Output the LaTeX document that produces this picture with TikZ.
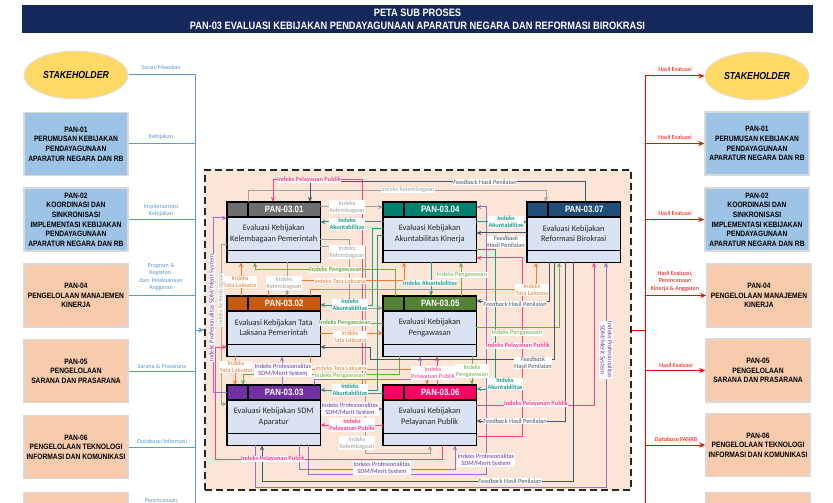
\documentclass[tikz,border=0pt]{standalone}
\usepackage{fontspec}
\setmainfont{Carlito}
\newfontfamily\narrowfont{Liberation Sans}[FakeStretch=0.86]
\usetikzlibrary{arrows.meta,calc,shapes.geometric}

% palette
\definecolor{hdrnavy}{HTML}{14285C}
\definecolor{pblue}{HTML}{9DC3E6}
\definecolor{ppeach}{HTML}{F8CBAD}
\definecolor{sgold}{HTML}{FFD966}
\definecolor{zonefill}{HTML}{FBE5D6}
\definecolor{bodyfill}{HTML}{DAE3F3}
\definecolor{linkblue}{HTML}{5B9BD5}
\definecolor{hgray}{HTML}{6E6E6E}
\definecolor{hteal}{HTML}{00806E}
\definecolor{hnavy}{HTML}{1F4E79}
\definecolor{horange}{HTML}{C55A11}
\definecolor{hgreen}{HTML}{548235}
\definecolor{hpurple}{HTML}{7030A0}
\definecolor{hpink}{HTML}{FF0066}
\definecolor{cgray}{HTML}{A0A0A0}
\definecolor{cteal}{HTML}{1E9C8C}
\definecolor{cnavy}{HTML}{44546A}
\definecolor{cgreen}{HTML}{70AD47}
\definecolor{corange}{HTML}{ED7D31}
\definecolor{cpink}{HTML}{FF3D8B}
\definecolor{cpurple}{HTML}{9A6FC8}

\tikzset{
  hdr/.style={fill=hdrnavy,text=white,align=center,minimum width=791bp,minimum height=28bp,
    font=\narrowfont\bfseries\fontsize{10.8}{13}\selectfont},
  shape-oval/.style={ellipse,fill=sgold,draw=black!12,line width=1bp,minimum width=104bp,
    minimum height=48bp,inner sep=0pt,font=\narrowfont\bfseries\itshape\fontsize{10.2}{12}\selectfont},
  lbox/.style={rectangle,draw=black!15,line width=1.5bp,minimum width=104bp,minimum height=63bp,
    align=center,inner sep=1bp,font=\narrowfont\bfseries\fontsize{7.8}{9.7}\selectfont},
  zone/.style={rectangle,fill=zonefill,draw=black!85,line width=1.5bp,dash pattern=on 7bp off 4bp,
    minimum width=426bp,minimum height=320bp},
  pframe/.style={rectangle,minimum width=93bp,minimum height=60bp,inner sep=0pt},
  ptitle/.style={text=white,font=\narrowfont\bfseries\fontsize{9.2}{10}\selectfont,inner sep=0pt},
  pbody/.style={align=center,text=black!85,font=\fontsize{8.4}{10.4}\selectfont,inner sep=0pt},
  lk/.style={linkblue,line width=1bp},
  rk/.style={red,line width=1bp},
  link/.style={line width=1bp,-{Stealth[length=5bp,width=4.2bp]}},
  tag/.style={fill=white,inner sep=0.5bp,align=center,font=\fontsize{6.4}{7.2}\selectfont},
  btag/.style={tag,font=\bfseries\fontsize{6.4}{7.2}\selectfont},
  side/.style={align=center,font=\fontsize{6.2}{7.6}\selectfont,inner sep=0.5bp},
}

% a sub-process box: name, left x, top y, header colour, code, title
\newcommand\pansub[6]{%
  \node[pframe,anchor=north west] (#1) at (#2,#3) {};
  \fill[bodyfill] (#1.north west) rectangle (#1.south east);
  \fill[#4] (#1.north west) rectangle ($(#1.north east)+(0,15)$);
  \draw[line width=1.1bp] ($(#1.north west)+(0,15)$) -- ($(#1.north east)+(0,15)$);
  \draw[line width=1.1bp] ($(#1.south west)+(0,-12)$) -- ($(#1.south east)+(0,-12)$);
  \draw[line width=1.1bp] ($(#1.north west)+(21,0)$) -- ($(#1.north west)+(21,15)$);
  \draw[line width=1.3bp] (#1.north west) rectangle (#1.south east);
  \node[ptitle] (#1-t) at ($(#1.north)+(10.5,7.5)$) {#5};
  \node[pbody] (#1-b) at ($(#1.center)+(0,1.5)$) {#6};
}

\begin{document}
\begin{tikzpicture}[x=1bp,y=-1bp]
\useasboundingbox (0,0) rectangle (833,503);
\clip (0,0) rectangle (833,503);
\fill[white] (0,0) rectangle (833,503);

% title bar
\node[hdr] (title) at (417.5,19) {PETA SUB PROSES\\PAN-03 EVALUASI KEBIJAKAN PENDAYAGUNAAN APARATUR NEGARA DAN REFORMASI BIROKRASI};

% ---------- inputs (left) ----------
\node[shape-oval] (shL) at (76,75) {STAKEHOLDER};
\node[lbox,fill=pblue] (l01) at (76,144) {PAN-01\\PERUMUSAN KEBIJAKAN\\PENDAYAGUNAAN\\APARATUR NEGARA DAN RB};
\node[lbox,fill=pblue] (l02) at (76,219.5) {PAN-02\\KOORDINASI DAN\\SINKRONISASI\\IMPLEMENTASI KEBIJAKAN\\PENDAYAGUNAAN\\APARATUR NEGARA DAN RB};
\node[lbox,fill=ppeach] (l04) at (76,295.5) {PAN-04\\PENGELOLAAN MANAJEMEN\\KINERJA};
\node[lbox,fill=ppeach] (l05) at (76,371) {PAN-05\\PENGELOLAAN\\SARANA DAN PRASARANA};
\node[lbox,fill=ppeach] (l06) at (76,447) {PAN-06\\PENGELOLAAN TEKNOLOGI\\INFORMASI DAN KOMUNIKASI};
\node[lbox,fill=ppeach] (l07) at (76,524) {};

\coordinate (lbusT) at (195,75);
\coordinate (lbusB) at (195,520);
\draw[lk] (shL.east) -- (lbusT) -- (lbusB);
\draw[lk] (l01.east) -- (l01.east -| lbusT);
\draw[lk] (l02.east) -- (l02.east -| lbusT);
\draw[lk] (l04.east) -- (l04.east -| lbusT);
\draw[lk] (l05.east) -- (l05.east -| lbusT);
\draw[lk] (l06.east) -- (l06.east -| lbusT);
\draw[lk] (l07.east) -- (l07.east -| lbusT);

\node[side,text=linkblue] (ti1) at (161,67) {Saran/Masukan};
\node[side,text=linkblue] (ti2) at (161,137) {Kebijakan};
\node[side,text=linkblue] (ti3) at (161,210.5) {Implementasi\\Kebijakan};
\node[side,text=linkblue] (ti4) at (161,277) {Program \&\\Kegiatan,\\dan~~Pelaksanaan\\Anggaran};
\node[side,text=linkblue] (ti5) at (162,366) {Sarana \& Prasarana};
\node[side,text=linkblue] (ti6) at (162,441) {\textit{Database}/Informasi};
\node[side,text=linkblue] (ti7) at (162,501) {Perencanaan,};

% ---------- outputs (right) ----------
\node[shape-oval] (shR) at (757,76) {STAKEHOLDER};
\node[lbox,fill=pblue] (r01) at (757,143.5) {PAN-01\\PERUMUSAN KEBIJAKAN\\PENDAYAGUNAAN\\APARATUR NEGARA DAN RB};
\node[lbox,fill=pblue] (r02) at (757,219.5) {PAN-02\\KOORDINASI DAN\\SINKRONISASI\\IMPLEMENTASI KEBIJAKAN\\PENDAYAGUNAAN\\APARATUR NEGARA DAN RB};
\node[lbox,fill=ppeach] (r04) at (759,295.5) {PAN-04\\PENGELOLAAN MANAJEMEN\\KINERJA};
\node[lbox,fill=ppeach] (r05) at (758,370.5) {PAN-05\\PENGELOLAAN\\SARANA DAN PRASARANA};
\node[lbox,fill=ppeach] (r06) at (758,445) {PAN-06\\PENGELOLAAN TEKNOLOGI\\INFORMASI DAN KOMUNIKASI};
\node[lbox,fill=ppeach] (r07) at (758,524) {};

\coordinate (rbusT) at (645,76);
\coordinate (rbusB) at (645,520);
\draw[rk] (rbusT) -- (rbusB);
\draw[rk,-{Stealth[length=6bp,width=5bp]}] (rbusT) -- (shR.west);
\draw[rk,-{Stealth[length=6bp,width=5bp]}] (r01.west -| rbusT) -- (r01.west);
\draw[rk,-{Stealth[length=6bp,width=5bp]}] (r02.west -| rbusT) -- (r02.west);
\draw[rk,-{Stealth[length=6bp,width=5bp]}] (r04.west -| rbusT) -- (r04.west);
\draw[rk,-{Stealth[length=6bp,width=5bp]}] (r05.west -| rbusT) -- (r05.west);
\draw[rk,-{Stealth[length=6bp,width=5bp]}] (r06.west -| rbusT) -- (r06.west);

\node[side,text=red] (to1) at (675,69) {Hasil Evaluasi};
\node[side,text=red] (to2) at (675,137) {Hasil Evaluasi};
\node[side,text=red] (to3) at (675,213) {Hasil Evaluasi};
\node[side,text=red] (to4) at (675,281) {Hasil Evaluasi,\\Perencanaan\\Kinerja \& Anggaran};
\node[side,text=red] (to5) at (676,365) {Hasil Evaluasi};
\node[side,text=red] (to6) at (676,439) {\textit{Database} PANRB};

% ---------- sub-process zone ----------
\node[zone] (zone) at (418,330) {};
\draw[lk,-{Stealth[length=6bp,width=5bp]}] (zone.west -| lbusT) -- (zone.west);
\draw[rk] (zone.east) -- (zone.east -| rbusT);

\pansub{b01}{227}{202}{hgray}{PAN-03.01}{Evaluasi Kebijakan\\Kelembagaan Pemerintah}
\pansub{b04}{383}{202}{hteal}{PAN-03.04}{Evaluasi Kebijakan\\Akuntabilitas Kinerja}
\pansub{b07}{527}{202}{hnavy}{PAN-03.07}{Evaluasi Kebijakan\\Reformasi Birokrasi}
\pansub{b02}{227}{296}{horange}{PAN-03.02}{Evaluasi Kebijakan Tata\\Laksana Pemerintah}
\pansub{b05}{383}{296}{hgreen}{PAN-03.05}{Evaluasi Kebijakan\\Pengawasan}
\pansub{b03}{227}{385}{hpurple}{PAN-03.03}{Evaluasi Kebijakan SDM\\Aparatur}
\pansub{b06}{383}{385}{hpink}{PAN-03.06}{Evaluasi Kebijakan\\Pelayanan Publik}

% ---------- flows between sub-processes ----------
% kelembagaan (gray)
\draw[link,cgray] (b01.north -| 248,0) |- (546,191) -- (b07.north -| 546,0);
\draw[link,cgray] (b01.east |- 0,207) -- (b04.west |- 0,207);
\draw[link,cgray] (b01.east |- 0,240) -| (349,308) -- (b05.west |- 0,308);
\draw[link,cgray] (b01.south -| 287,0) -- (b02.north -| 287,0);
\draw[link,cgray] (b01.east |- 0,247) -| (365,453) -| (b06.south -| 430,0);
\draw[link,cgray] (b01.west |- 0,245) -| (221,404) -- (b03.west |- 0,404);
% akuntabilitas (teal)
\draw[link,cteal] (b04.west |- 0,222) -- (b01.east |- 0,222);
\draw[link,cteal] (b04.west |- 0,229) -| (372,305) -- (b02.east |- 0,305);
\draw[link,cteal] (b04.west |- 0,236) -| (377,390) -- (b03.east |- 0,390);
\draw[link,cteal] (b04.south -| 431,0) -- (b05.north -| 431,0);
\draw[link,cteal] (b04.east |- 0,222) -- (b07.west |- 0,222);
\draw[link,cteal] (b04.east |- 0,250) -| (495,389) -- (b06.east |- 0,389);
% pengawasan (green)
\draw[link,cgreen] (b05.north -| 395,0) |- (255,270) -- (b01.south -| 255,0);
\draw[link,cgreen] (b05.west |- 0,323) -- (b02.east |- 0,323);
\draw[link,cgreen] (b05.east |- 0,327) -| (b07.south -| 559,0);
\draw[link,cgreen] (b05.north -| 461,0) -- (b04.south -| 461,0);
\draw[link,cgreen] (b05.south -| 399,0) |- (243,374) -- (b03.north -| 243,0);
\draw[link,cgreen] (b05.south -| 472,0) -- (b06.north -| 472,0);
% tata laksana (orange)
\draw[link,corange] (b02.north -| 241,0) -- (b01.south -| 241,0);
\draw[link,corange] (b02.north -| 268,0) |- (404,281) -- (b04.south -| 404,0);
\draw[link,corange] (b02.north -| 310,0) |- (536,290) -- (b07.south -| 536,0);
\draw[link,corange] (b02.east |- 0,333) -- (b05.west |- 0,333);
\draw[link,corange] (b02.south -| 235,0) -- (b03.north -| 235,0);
\draw[link,corange] (b02.south -| 310,0) |- (427,369) -- (b06.north -| 427,0);
% profesionalitas SDM (purple)
\draw[link,cpurple] (b03.west |- 0,392) -| (213,218) -- (b01.west |- 0,218);
\draw[link,cpurple] (b03.north -| 282,0) -- (b02.south -| 282,0);
\draw[link,cpurple] (b03.north -| 314,0) |- (420,379) -- (b05.south -| 420,0);
\draw[link,cpurple] (b03.south -| 308,0) |- (486,474) |- (b04.east |- 0,207);
\draw[link,cpurple] (b03.south -| 299,0) |- (455,469) -- (b06.south -| 455,0);
\draw[link,cpurple] (b03.south -| 255,0) |- (606,487) -- (b07.south -| 606,0);
\draw[link,cpurple] (b03.east |- 0,409) -- (b06.west |- 0,409);
% pelayanan publik (pink)
\draw[link,cpink] (b06.west |- 0,393) -| (362,180) -| (b01.north -| 273,0);
\draw[link,cpink] (b06.west |- 0,425) -- (b03.east |- 0,425);
\draw[link,cpink] (b06.south -| 442,0) |- (215,459) |- (b02.west |- 0,347);
\draw[link,cpink] (b06.north -| 437,0) -- (b05.south -| 437,0);
\draw[link,cpink] (b06.east |- 0,405) -| (b07.south -| 594,0);
\draw[link,cpink] (b06.east |- 0,436) -| (522,258) -- (b04.east |- 0,258);
% feedback (navy)
\draw[link,cnavy] (b07.north -| 585,0) |- (310,182) -- (b01.north -| 310,0);
\draw[link,cnavy] (b07.west |- 0,233) -- (b04.east |- 0,233);
\draw[link,cnavy] (b07.south -| 549,0) |- (b05.east |- 0,301);
\draw[link,cnavy] (b07.south -| 554,0) |- (370,359) |- (b02.east |- 0,347);
\draw[link,cnavy] (b07.south -| 565,0) |- (b06.east |- 0,421);
\draw[link,cnavy] (b07.south -| 573,0) |- (262,481) -- (b03.south -| 262,0);

% ---------- flow labels ----------
\node[btag,text=cpink] (t01) at (309,180) {Indeks Pelayanan Publik};
\node[tag,text=cnavy] (t02) at (485,182) {\textit{Feedback} Hasil Penilaian};
\node[tag,text=cgray] (t03) at (408,190) {Indeks Kelembagaan};
\node[tag,text=cgray] (t04) at (347,207) {Indeks\\Kelembagaan};
\node[btag,text=cteal] (t05) at (347,224) {Indeks\\Akuntabilitas};
\node[tag,text=cgray] (t06) at (347,252) {Indeks\\Kelembagaan};
\node[btag,text=cgreen] (t07) at (336,270) {Indeks Pengawasan};
\node[tag,text=corange] (t08) at (240,282) {Indeks\\Tata Laksana};
\node[tag,text=cgray] (t09) at (284,283) {Indeks\\Kelembagaan};
\node[tag,text=corange] (t10) at (340,281) {Indeks Tata Laksana};
\node[btag,text=cteal] (t11) at (430,283) {Indeks Akuntabilitas};
\node[tag,text=cgreen] (t12) at (462,275) {Indeks Pengawasan};
\node[tag,text=corange] (t13) at (532,290) {Indeks\\Tata Laksana};
\node[btag,text=cteal] (t14) at (506,222) {Indeks\\Akuntabilitas};
\node[tag,text=cnavy] (t15) at (506,242) {\textit{Feedback}\\Hasil Penilaian};
\node[btag,text=cteal] (t16) at (350,305) {Indeks\\Akuntabilitas};
\node[btag,text=cgreen] (t17) at (345,323) {Indeks Pengawasan};
\node[tag,text=corange] (t18) at (350,337) {Indeks\\Tata Laksana};
\node[tag,text=cnavy] (t19) at (515,304) {\textit{Feedback} Hasil Penilaian};
\node[tag,text=cgreen] (t20) at (517,333) {Indeks Pengawasan};
\node[btag,text=cpink] (t21) at (518,346) {Indeks Pelayanan Publik};
\node[tag,text=cnavy] (t22) at (533,363) {\textit{Feedback}\\Hasil Penilaian};
\node[tag,text=corange] (t23) at (236,367) {Indeks\\Tata Laksana};
\node[tag,text=hpurple] (t24) at (283,370) {Indeks Profesionalitas\\SDM/Merit System};
\node[tag,text=corange] (t25) at (341,368) {Indeks Tata Laksana};
\node[tag,text=cgreen] (t26) at (340,376) {Indeks Pengawasan};
\node[tag,text=cpink] (t27) at (433,373) {Indeks\\Pelayanan Publik};
\node[tag,text=cgreen] (t28) at (472,371) {Indeks\\Pengawasan};
\node[btag,text=cteal] (t29) at (350,390) {Indeks\\Akuntabilitas};
\node[btag,text=cteal] (t30) at (505,384) {Indeks\\Akuntabilitas};
\node[btag,text=cpink] (t31) at (536,404) {Indeks Pelayanan Publik};
\node[tag,text=hpurple] (t32) at (350,409) {Indeks Profesionalitas\\SDM/Merit System};
\node[tag,text=cnavy] (t33) at (515,421) {\textit{Feedback} Hasil Penilaian};
\node[btag,text=cpink] (t34) at (352,425) {Indeks\\Pelayanan Publik};
\node[tag,text=cgray] (t35) at (357,443) {Indeks\\Kelembagaan};
\node[btag,text=cpink] (t36) at (273,459) {Indeks Pelayanan Publik};
\node[tag,text=hpurple] (t37) at (486,460) {Indeks Profesionalitas\\SDM/Merit System};
\node[tag,text=hpurple] (t38) at (382,468) {Indeks Profesionalitas\\SDM/Merit System};
\node[tag,text=cnavy] (t39) at (510,481) {\textit{Feedback} Hasil Penilaian};
\node[tag,text=hpurple,rotate=90] (t40) at (212,308) {Indeks Profesionalitas SDM/Merit System};
\node[tag,text=cgray,rotate=90] (t41) at (221,300) {Indeks Kelembagaan};
\node[tag,text=hpurple,rotate=-90] (t42) at (606,350) {Indeks Profesionalitas\\SDM/Merit System};
\end{tikzpicture}
\end{document}
